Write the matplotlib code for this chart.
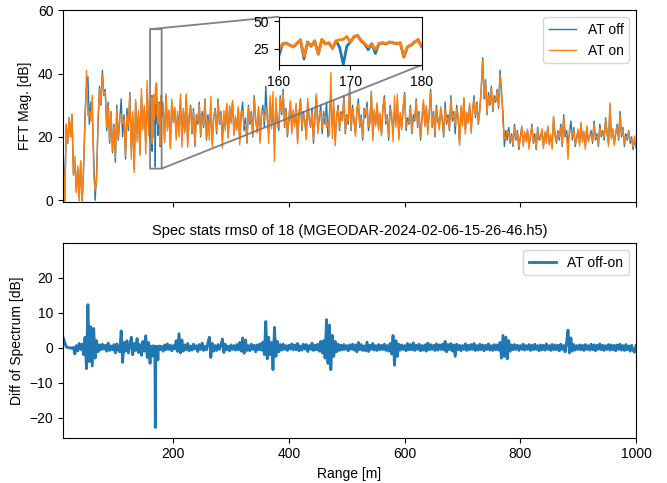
import numpy as np
import matplotlib
matplotlib.use("Agg")
from matplotlib import pyplot as plt

plt.rcParams['font.family'] = ['Liberation Sans', 'DejaVu Sans']

# Range bins, 2.5 m apart (10 .. 1000 m)
range_m = np.arange(10, 1000.1, 2.5)

# FFT magnitude with AT off [dB] (50 m per row)
at_off = [
    14, 0, 24, 18, 26, 20, 27, 8, 12, 3, 10, 1, 12, 0, 9, 27, 35, 39, 24, 31,
    28, 14, 0, 8, 24, 36, 30, 41, 33, 35, 22, 31, 18, 28, 15, 24, 12, 30, 19, 25,
    32, 20, 27, 13, 29, 22, 34, 16, 26, 10, 31, 21, 27, 15, 33, 24, 29, 18, 35, 22,
    26, 30, 24, 12, 33, 27, 31, 22, 28, 30, 19, 33, 23, 28, 17, 31, 25, 29, 21, 27,
    24, 32, 19, 28, 22, 33, 18, 26, 30, 21, 29, 17, 27, 24, 31, 20, 28, 23, 32, 19,
    27, 22, 30, 18, 26, 29, 21, 32, 24, 28, 19, 27, 23, 30, 20, 29, 25, 31, 21, 26,
    23, 29, 19, 27, 31, 22, 26, 18, 30, 24, 28, 20, 33, 25, 22, 29, 19, 27, 30, 23,
    36, 26, 21, 31, 24, 28, 18, 30, 25, 22, 33, 27, 35, 23, 29, 20, 26, 31, 22, 28,
    24, 30, 19, 27, 32, 22, 28, 25, 20, 31, 26, 23, 29, 18, 27, 33, 22, 26, 30, 21,
    28, 24, 31, 20, 27, 34, 23, 29, 19, 26, 30, 22, 28, 25, 33, 21, 27, 24, 36, 22,
    30, 25, 21, 28, 32, 23, 27, 19, 29, 26, 31, 22, 25, 34, 20, 28, 24, 30, 23, 27,
    21, 29, 33, 24, 27, 19, 30, 26, 22, 28, 25, 31, 20, 27, 23, 29, 34, 22, 26, 24,
    30, 21, 27, 25, 32, 23, 28, 19, 26, 31, 24, 29, 22, 27, 35, 23, 28, 20, 30, 25,
    23, 29, 26, 20, 31, 24, 27, 22, 33, 25, 28, 21, 30, 26, 18, 29, 24, 32, 22, 27,
    25, 30, 22, 28, 33, 26, 31, 24, 29, 35, 45, 32, 38, 27, 34, 30, 36, 28, 33, 31,
    35, 29, 41, 33, 28, 17, 22, 19, 23, 18, 21, 17, 24, 19, 22, 16, 20, 23, 18, 21,
    19, 22, 17, 20, 24, 18, 21, 16, 23, 19, 20, 22, 17, 21, 19, 23, 18, 20, 17, 26,
    21, 18, 22, 19, 24, 17, 27, 20, 22, 18, 21, 25, 19, 23, 17, 20, 22, 18, 24, 19,
    21, 17, 23, 19, 20, 22, 18, 25, 19, 21, 17, 24, 20, 22, 19, 26, 21, 18, 30, 20,
    22, 18, 21, 24, 19, 28, 20, 23, 17, 21, 19, 22, 18, 20, 16, 19, 17,
]

# Difference AT off - AT on [dB]
diff_off_on = [
    2.8, 1.5, 0.2, 0.1, -0.1, 0.0, -0.2, 0.1, -1.8, 0.6, -0.9, 1.2, -0.5, 1.0, -2.0, 3.0, -6.0, 12.3, -4.0, 6.0,
    -5.2, 5.5, -3.0, 2.0, -1.2, 0.8, -0.6, 1.0, -0.4, 0.7, -1.0, 1.3, -0.8, 0.5, -0.6, 0.9, -1.5, 1.1, -0.7, -1.2,
    4.8, -4.2, 1.5, -1.0, 2.0, -1.5, 0.6, 3.0, -2.0, 1.2, -0.8, 2.6, -1.4, 0.9, -2.2, 1.8, -1.0, 3.4, -2.8, 1.5,
    -1.5, 0.9, -2.5, 1.0, -3.0, -5.0, 2.0, -1.2, 3.0, -1.0, 0.8, -0.6, 1.1, -0.5, 0.7, -0.9, 0.6, -0.4, 2.0, -1.1,
    4.0, -1.5, 2.2, -1.0, 0.8, -0.6, 1.2, -0.9, 0.5, -0.7, 1.0, -0.4, 0.6, -1.1, 0.9, -0.5, 1.3, -0.8, 0.4, -0.6,
    1.5, 3.0, -2.8, 1.2, -1.0, 0.6, -0.8, 0.9, -0.5, 0.7, 2.5, -1.4, 1.0, -0.6, 0.4, -0.9, 0.8, -0.5, 0.6, -0.7,
    0.9, -0.6, 1.5, -1.0, 2.8, -1.6, 2.2, -0.8, 0.6, -0.9, 1.0, -0.5, 0.7, -1.2, 0.8, -0.6, 1.1, -0.7, 1.6, -2.0,
    7.5, -3.2, 3.0, -2.0, 1.5, -6.3, 5.8, -2.5, 1.8, -1.2, 0.9, -0.7, 1.0, -0.5, 0.6, -0.8, 0.7, -0.4, 1.1, -0.6,
    0.8, -0.6, 1.2, -0.9, 0.5, -0.7, 1.0, -0.4, 0.9, -1.1, 0.6, -0.5, 1.3, -0.8, 0.7, -0.6, 1.0, -1.0, 1.8, -1.5,
    2.0, -3.0, 8.0, -4.5, 6.5, -6.3, 3.5, -2.5, 1.8, -1.2, 1.0, -0.8, 0.7, -0.6, 0.9, -0.5, 0.6, -0.9, 0.8, -0.4,
    1.0, -0.7, 0.8, -1.2, 1.5, -0.6, 0.9, -0.8, 0.5, -0.9, 1.6, -1.1, 0.7, -0.5, 1.2, -0.7, 0.6, -0.8, 0.9, -0.6,
    0.7, -0.5, 1.0, -0.8, 0.6, -1.0, 1.2, -1.8, 3.5, -5.0, 2.0, -2.5, 1.0, -0.7, 0.8, -0.5, 0.6, -0.9, 1.2, -0.6,
    0.9, -0.6, 1.4, -0.8, 0.7, -0.5, 1.0, -0.9, 0.6, -0.7, 0.8, -1.0, 1.3, -0.6, 0.9, -0.5, 0.7, -0.8, 1.1, -0.7,
    0.8, -0.5, 1.0, -0.7, 1.8, -1.2, 0.9, -0.6, 1.2, -1.0, 0.8, -2.5, 1.0, -0.6, 0.7, -0.9, 0.6, -0.5, 1.1, -0.8,
    0.7, -0.6, 0.9, -0.5, 1.2, -0.8, 0.6, -0.7, 1.0, -0.6, 0.8, -0.9, 0.7, -0.5, 1.1, -0.7, 0.6, -0.8, 0.9, -0.6,
    0.8, -0.7, 1.5, -3.0, 3.5, -2.5, 3.0, -3.2, 2.0, -1.0, 0.8, -0.6, 0.9, -0.5, 0.7, -0.8, 0.6, -0.5, 1.0, -0.7,
    0.6, -0.5, 0.9, -0.8, 0.7, -0.6, 1.0, -0.5, 0.6, -0.9, 0.8, -0.6, 0.7, -0.7, 1.1, -0.5, 0.6, -0.8, 0.9, -0.6,
    0.8, -0.6, 0.7, -0.9, 1.0, -0.5, 0.6, -1.2, 1.5, 5.0, -1.5, 2.8, -1.0, 0.9, -0.7, 0.6, -0.5, 0.8, -0.6, 0.7,
    -0.8, 0.9, -0.5, 0.6, -0.7, 1.0, -0.6, 0.8, -0.9, 0.7, -0.5, 1.1, -0.6, 0.7, -0.8, 0.6, -0.5, 0.9, -0.7, 0.8,
    -0.6, 0.7, -0.9, 0.8, -0.5, 1.0, -0.7, 0.6, -0.8, 0.9, -0.6, 0.5, -1.0, 0.7, -0.8, -1.3, 0.6,
]

# Finer bins (0.5 m) in the zoomed window 160 .. 180 m
fine_range_m = np.arange(160, 180.01, 0.5)
fine_off = [19, 29, 30, 28, 26.5, 29.5, 33, 15.5, 31, 27, 32, 20, 33, 29.5, 30, 25,
            32, 26, 10.5, 27, 31, 35.5, 37, 32, 29, 24, 29.5, 20.5, 29.5, 30, 29, 31,
            30, 29.5, 30, 17, 26.5, 28, 31, 33, 26.5]
fine_diff = [-4.5, -0.5, 0.3, -0.4, 0.2, -0.3, 0.4, -2.5, 0.5, -0.6, 0.3, 0.2, -0.4, 0.5,
             -0.3, -0.5, 0.2, -7.0, -22.8, -9.0, 0.4, -0.5, 0.3, -0.6, -0.5, -2.5, 0.4,
             -3.5, 0.3, -0.4, -0.5, 0.3, -0.4, 0.5, -0.3, -0.5, 0.2, -0.3, 0.4, -0.2, 0.3]

title = "Spec stats rms0 of 18 (MGEODAR-2024-02-06-15-26-46.h5)"

# merge coarse bins outside the zoom window with the fine ones
keep = (range_m < 160) | (range_m > 180)
x = np.concatenate([range_m[keep], fine_range_m])
off = np.concatenate([np.array(at_off, float)[keep], fine_off])
diff = np.concatenate([np.array(diff_off_on)[keep], fine_diff])
order = np.argsort(x)
x, off, diff = x[order], off[order], diff[order]
on = off - diff

fig = plt.figure(figsize=(6.67, 4.83), dpi=100)
ax1 = fig.add_axes([0.0945, 0.582, 0.859, 0.397])
ax2 = fig.add_axes([0.0945, 0.094, 0.859, 0.402], sharex=ax1)

ax1.plot(x, off, color="C0", lw=1, label="AT off")
ax1.plot(x, on, color="C1", lw=1, label="AT on")
ax1.set_ylim(-0.5, 60)
ax1.set_xlim(9.5, 1000)
ax1.set_ylabel("FFT Mag. [dB]")
ax1.legend(loc="upper right")
plt.setp(ax1.get_xticklabels(), visible=False)

# zoomed inset
axins = ax1.inset_axes([0.377, 0.714, 0.249, 0.252])
axins.plot(x, off, color="C0", lw=2)
axins.plot(x, on, color="C1", lw=2)
axins.set_xlim(160, 180)
axins.set_ylim(10, 54)
axins.set_xticks([160, 170, 180])
axins.set_yticks([25, 50])
ax1.indicate_inset_zoom(axins, edgecolor="0.45", alpha=0.9, lw=1.3)

ax2.plot(x, diff, color="C0", lw=2, label="AT off-on")
ax2.set_ylim(-25.7, 29.8)
ax2.set_ylabel("Diff of Spectrum [dB]")
ax2.set_xlabel("Range [m]")
ax2.set_title(title, fontsize=10.5)
ax2.legend(loc="upper right")

fig.savefig("out.png", dpi=100)
